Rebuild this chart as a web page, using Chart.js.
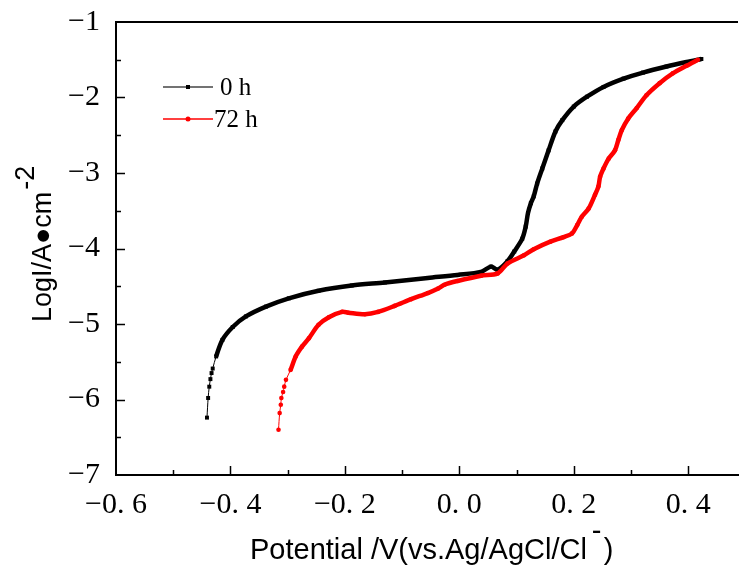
<!DOCTYPE html>
<html>
<head>
<meta charset="utf-8">
<script src="https://cdn.jsdelivr.net/npm/chart.js@4.4.1/dist/chart.umd.min.js"></script>
<style>
    body { margin: 0; background: #fff; }
    canvas { display: block; }
</style>
</head>
<body>
<canvas id="polCurve" width="742" height="565"></canvas>
<script>
// Potential (V vs. Ag/AgCl/Cl-) and log current density
const potential0h = [-0.441, -0.439, -0.437, -0.435, -0.433, -0.431, -0.425, -0.414, -0.396, -0.373,
    -0.338, -0.298, -0.246, -0.188, -0.130, -0.055, -0.003, 0.038, 0.055, 0.067,
    0.084, 0.096, 0.110, 0.116, 0.120, 0.125, 0.130, 0.136, 0.145, 0.156,
    0.168, 0.180, 0.200, 0.223, 0.252, 0.287, 0.321, 0.362, 0.397, 0.423];
const logI0h = [-6.24, -5.98, -5.83, -5.73, -5.65, -5.59, -5.43, -5.21, -5.04, -4.90,
    -4.77, -4.66, -4.56, -4.49, -4.45, -4.39, -4.35, -4.31, -4.24, -4.28,
    -4.17, -4.04, -3.87, -3.71, -3.53, -3.40, -3.31, -3.14, -2.94, -2.70,
    -2.45, -2.30, -2.12, -1.99, -1.86, -1.75, -1.67, -1.59, -1.53, -1.49];

const potential72h = [-0.316, -0.314, -0.312, -0.311, -0.308, -0.306, -0.303, -0.295, -0.286, -0.275,
    -0.263, -0.246, -0.228, -0.205, -0.194, -0.165, -0.142, -0.113, -0.084, -0.055,
    -0.037, -0.026, -0.003, 0.038, 0.067, 0.084, 0.113, 0.130, 0.159, 0.182,
    0.197, 0.206, 0.214, 0.226, 0.237, 0.243, 0.246, 0.252, 0.261, 0.272,
    0.278, 0.284, 0.295, 0.310, 0.327, 0.350, 0.373, 0.397, 0.417];
const logI72h = [-6.40, -6.18, -6.07, -5.98, -5.90, -5.83, -5.74, -5.61, -5.43, -5.30,
    -5.19, -5.01, -4.91, -4.84, -4.85, -4.87, -4.84, -4.76, -4.67, -4.59,
    -4.53, -4.48, -4.43, -4.36, -4.33, -4.20, -4.09, -4.01, -3.91, -3.85,
    -3.80, -3.69, -3.58, -3.47, -3.29, -3.18, -3.05, -2.94, -2.81, -2.70,
    -2.56, -2.43, -2.28, -2.14, -1.97, -1.81, -1.68, -1.58, -1.50];

const seriesNames = ['0 h', '72 h'];
const xTicks = [-0.6, -0.4, -0.2, 0.0, 0.2, 0.4];
const yTicks = [-7, -6, -5, -4, -3, -2, -1];

const toPoints = (xs, ys) => xs.map((x, i) => ({ x: x, y: ys[i] }));

// format like the original: "−0. 6"
function fmtX(v) {
    const sign = v < -1e-9 ? '\u2212' : '';
    return sign + Math.abs(v).toFixed(1).replace('.', '. ');
}
function fmtY(v) {
    return (v < 0 ? '\u2212' : '') + Math.abs(Math.round(v));
}

// inward ticks, top border, legend and the two axis titles
const decor = {
    id: 'decor',
    afterDraw(chart) {
        const ctx = chart.ctx;
        const area = chart.chartArea;
        const xs = chart.scales.x;
        const ys = chart.scales.y;
        ctx.save();
        ctx.strokeStyle = '#000';
        ctx.lineWidth = 2;
        ctx.beginPath();
        ctx.moveTo(area.left - 1, area.top);
        ctx.lineTo(area.right, area.top);
        ctx.stroke();

        ctx.lineWidth = 1.5;
        ctx.beginPath();
        for (let v = -0.6; v <= 0.45; v += 0.1) {
            const px = Math.round(xs.getPixelForValue(v)) + 0.5;
            const major = Math.abs(Math.round(v * 10)) % 2 === 0;
            if (px <= area.left + 2) continue;
            ctx.moveTo(px, area.bottom);
            ctx.lineTo(px, area.bottom - (major ? 9 : 5));
        }
        for (let v = -7; v <= -1; v += 0.5) {
            const py = Math.round(ys.getPixelForValue(v)) + 0.5;
            const major = Number.isInteger(v);
            if (py >= area.bottom - 2 || py <= area.top + 2) continue;
            ctx.moveTo(area.left, py);
            ctx.lineTo(area.left + (major ? 9 : 5), py);
        }
        ctx.stroke();

        // legend
        const legendRows = [
            { y: 87, color: '#444', mark: 'rect', text: seriesNames[0], tx: 220 },
            { y: 119, color: '#ff0000', mark: 'circle', text: seriesNames[1], tx: 214 }
        ];
        legendRows.forEach(row => {
            ctx.strokeStyle = row.color;
            ctx.lineWidth = 1.5;
            ctx.beginPath();
            ctx.moveTo(163, row.y);
            ctx.lineTo(213, row.y);
            ctx.stroke();
            ctx.fillStyle = row.mark === 'rect' ? '#000' : '#ff0000';
            if (row.mark === 'rect') {
                ctx.fillRect(186, row.y - 2, 4, 4);
            } else {
                ctx.beginPath();
                ctx.arc(188, row.y, 2.5, 0, Math.PI * 2);
                ctx.fill();
            }
            ctx.fillStyle = '#000';
            ctx.font = '25px "Liberation Serif"';
            ctx.textAlign = 'left';
            ctx.textBaseline = 'middle';
            ctx.fillText(row.text, row.tx, row.y + 1);
        });

        // y axis title with superscript
        ctx.save();
        ctx.translate(51, 322);
        ctx.rotate(-Math.PI / 2);
        ctx.font = '27px "Liberation Sans"';
        ctx.textBaseline = 'alphabetic';
        ctx.textAlign = 'left';
        const yMain = 'LogI/A\u25CFcm';
        ctx.fillText(yMain, 0, 0);
        const yw = ctx.measureText(yMain).width;
        ctx.fillText('-2', yw + 2, -17);
        ctx.restore();

        // x axis title with superscript
        ctx.font = '29px "Liberation Sans"';
        ctx.textBaseline = 'alphabetic';
        ctx.textAlign = 'left';
        const xMain = 'Potential /V(vs.Ag/AgCl/Cl';
        ctx.fillText(xMain, 250, 559);
        const xw = ctx.measureText(xMain).width;
        ctx.fillText('-', 250 + xw + 5, 540);
        ctx.fillText(')', 250 + xw + 17, 559);
        ctx.restore();
    }
};

const ctx = document.getElementById('polCurve').getContext('2d');
new Chart(ctx, {
    type: 'line',
    data: {
        datasets: [
            {
                label: seriesNames[0],
                data: toPoints(potential0h, logI0h),
                borderColor: '#000',
                backgroundColor: '#000',
                pointStyle: 'rect',
                pointRadius: 2.8,
                pointBorderWidth: 0,
                borderWidth: 4.5,
                segment: {
                    borderWidth: c => (c.p0DataIndex < 6 ? 1 : 4.5)
                },
                tension: 0.3,
                order: 2
            },
            {
                label: seriesNames[1],
                data: toPoints(potential72h, logI72h),
                borderColor: '#ff0000',
                backgroundColor: '#ff0000',
                pointStyle: 'circle',
                pointRadius: 2.3,
                pointBorderWidth: 0,
                borderWidth: 4.5,
                segment: {
                    borderWidth: c => (c.p0DataIndex < 7 ? 1 : 4.5)
                },
                tension: 0.3,
                order: 1
            }
        ]
    },
    options: {
        responsive: false,
        animation: false,
        layout: { padding: { top: 22, right: 0, left: 0, bottom: 0 } },
        plugins: {
            legend: { display: false },
            tooltip: { enabled: false }
        },
        scales: {
            x: {
                type: 'linear',
                min: -0.6,
                max: 0.487,
                afterFit: s => { s.height = 90; },
                afterBuildTicks: s => { s.ticks = xTicks.map(v => ({ value: v })); },
                grid: { display: false },
                border: { display: true, color: '#000', width: 2 },
                ticks: {
                    callback: fmtX,
                    color: '#000',
                    padding: 4,
                    maxRotation: 0,
                    font: { family: '"Liberation Serif"', size: 30 }
                }
            },
            y: {
                type: 'linear',
                min: -7,
                max: -1,
                afterFit: s => { s.width = 116; s.paddingTop = 0; s.paddingBottom = 0; },
                afterBuildTicks: s => { s.ticks = yTicks.map(v => ({ value: v })); },
                grid: { display: false },
                border: { display: true, color: '#000', width: 2 },
                ticks: {
                    callback: fmtY,
                    color: '#000',
                    padding: 8,
                    font: { family: '"Liberation Serif"', size: 30 }
                }
            }
        }
    },
    plugins: [decor]
});
</script>
</body>
</html>
